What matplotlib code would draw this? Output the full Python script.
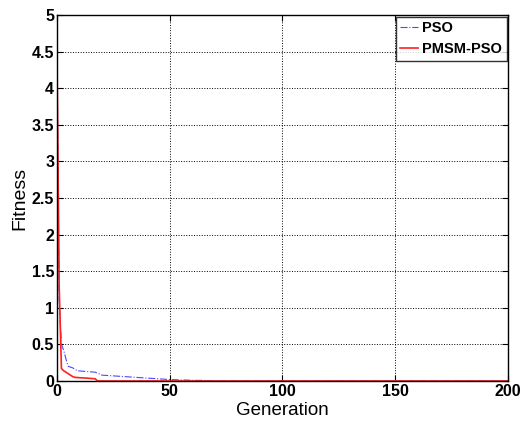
import numpy as np
from matplotlib import pyplot as plt

plt.rcParams['font.family'] = ['Liberation Sans', 'DejaVu Sans']

# PSO convergence curve
pso_gen = [0, 1, 2, 3, 4, 5, 7, 9, 13, 17, 20, 25, 30, 35, 40, 45, 50, 55, 60, 65, 70, 200]
pso_fit = [4.7, 1.1, 0.5, 0.42, 0.3, 0.2, 0.18, 0.14, 0.13, 0.12, 0.08, 0.07, 0.06, 0.05, 0.04, 0.03, 0.02, 0.015, 0.01, 0.008, 0.0, 0.0]

# PMSM-PSO convergence curve
pmsm_gen = [0, 1, 2, 3, 4, 5, 6, 7, 8, 10, 13, 15, 17, 18, 200]
pmsm_fit = [4.5, 1.3, 0.17, 0.14, 0.12, 0.1, 0.08, 0.06, 0.05, 0.045, 0.04, 0.035, 0.03, 0.0, 0.0]

fig = plt.figure(figsize=(5.27, 4.21), dpi=100)
ax = fig.add_axes([0.108, 0.095, 0.856, 0.869])

ax.plot(pso_gen, pso_fit, color="#4a4aff", linestyle="-.", linewidth=0.8, label="PSO")
ax.plot(pmsm_gen, pmsm_fit, color="#ff2020", linestyle="-", linewidth=1.2, label="PMSM-PSO")

ax.set_xlim(0, 200)
ax.set_ylim(0, 5)
ax.set_xticks([0, 50, 100, 150, 200])
ax.set_yticks(np.arange(0, 5.01, 0.5))
ax.set_yticklabels(["0", "0.5", "1", "1.5", "2", "2.5", "3", "3.5", "4", "4.5", "5"])
ax.grid(True, color="black", linestyle=":", linewidth=0.7)
ax.tick_params(direction="in", top=True, right=True, labelsize=11.5, length=4, pad=2)
for lbl in ax.get_xticklabels() + ax.get_yticklabels():
    lbl.set_fontweight("bold")
for s in ax.spines.values():
    s.set_linewidth(1.0)

ax.set_xlabel("Generation", fontsize=13.5, labelpad=2)
ax.set_ylabel("Fitness", fontsize=14, labelpad=2)

leg = ax.legend(loc="upper right", fontsize=10.5, fancybox=False, edgecolor="black",
                borderpad=0.3, handlelength=1.2, handletextpad=0.3, borderaxespad=0.1)
for t in leg.get_texts():
    t.set_fontweight("bold")
leg.get_frame().set_linewidth(1.0)

plt.savefig("out.png", dpi=100)
